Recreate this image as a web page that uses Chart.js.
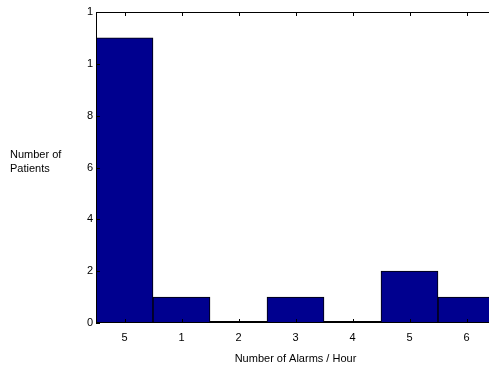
<!DOCTYPE html>
<html>
<head>
<meta charset="utf-8">
<script src="https://cdn.jsdelivr.net/npm/chart.js@4"></script>
<style>
  html, body { margin: 0; padding: 0; background: #fff; overflow: hidden; }
  #wrap { position: relative; width: 495px; height: 369px; }
</style>
</head>
<body>
<div id="wrap"><canvas id="histChart"></canvas></div>
<script>
// data
const categories = ['5', '1', '2', '3', '4', '5', '6'];
const patientCounts = [11, 1, 0, 1, 0, 2, 1];
const yTickValues = [0, 2, 4, 6, 8, 10, 12];
const yTickLabels = ['0', '2', '4', '6', '8', '1', '1'];

const FONT = '"Liberation Sans", Arial, sans-serif';
const BAR_COLOR = '#00008f';

// frame, inside tick marks and the horizontal y title
const framePlugin = {
    id: 'frame',
    afterDraw(chart) {
        const ctx = chart.ctx;
        const a = chart.chartArea;
        const x = chart.scales.x;
        const y = chart.scales.y;
        ctx.save();
        ctx.strokeStyle = '#000';
        ctx.lineWidth = 1;
        ctx.beginPath();
        ctx.moveTo(a.left + 0.5, a.top + 0.5);
        ctx.lineTo(a.right, a.top + 0.5);
        ctx.moveTo(a.left + 0.5, a.top);
        ctx.lineTo(a.left + 0.5, a.bottom);
        ctx.moveTo(a.left, a.bottom - 0.5);
        ctx.lineTo(a.right, a.bottom - 0.5);
        // tick marks pointing inward
        categories.forEach((c, i) => {
            const px = Math.round(x.getPixelForValue(i)) + 0.5;
            ctx.moveTo(px, a.top);
            ctx.lineTo(px, a.top + 4);
            ctx.moveTo(px, a.bottom);
            ctx.lineTo(px, a.bottom - 4);
        });
        yTickValues.forEach(v => {
            const py = Math.round(y.getPixelForValue(v)) + 0.5;
            ctx.moveTo(a.left, py);
            ctx.lineTo(a.left + 4, py);
        });
        ctx.stroke();

        // zero-height bars show as a heavier baseline
        const meta = chart.getDatasetMeta(0);
        ctx.lineWidth = 2;
        ctx.beginPath();
        meta.data.forEach((bar, i) => {
            if (patientCounts[i] === 0) {
                ctx.moveTo(bar.x - bar.width / 2, a.bottom - 1);
                ctx.lineTo(bar.x + bar.width / 2, a.bottom - 1);
            }
        });
        ctx.stroke();

        ctx.fillStyle = '#000';
        ctx.font = '11px ' + FONT;
        ctx.textAlign = 'left';
        ctx.textBaseline = 'middle';
        ctx.fillText('Number of', 10, 155);
        ctx.fillText('Patients', 10, 169);
        ctx.restore();
    }
};

function initChart() {
    const ctx = document.getElementById('histChart').getContext('2d');
    new Chart(ctx, {
        type: 'bar',
        data: {
            labels: categories,
            datasets: [{
                data: patientCounts,
                backgroundColor: BAR_COLOR,
                borderColor: '#000',
                borderWidth: 1,
                borderSkipped: false,
                categoryPercentage: 1,
                barPercentage: 1
            }]
        },
        options: {
            responsive: true,
            maintainAspectRatio: false,
            animation: false,
            layout: { padding: { left: 0, top: 12, right: 0, bottom: 0 } },
            plugins: {
                legend: { display: false },
                tooltip: { enabled: false }
            },
            scales: {
                x: {
                    grid: { display: false, drawTicks: false },
                    border: { display: false },
                    ticks: {
                        color: '#000',
                        padding: 8,
                        font: { family: FONT, size: 11 }
                    },
                    title: {
                        display: true,
                        text: 'Number of Alarms / Hour',
                        color: '#000',
                        padding: { top: 9, bottom: 3 },
                        font: { family: FONT, size: 11 }
                    },
                    afterFit: (s) => { s.height = 46; }
                },
                y: {
                    min: 0,
                    max: 12,
                    afterBuildTicks: (s) => { s.ticks = yTickValues.map(v => ({ value: v })); },
                    grid: { display: false, drawTicks: false },
                    border: { display: false },
                    ticks: {
                        color: '#000',
                        padding: 3,
                        font: { family: FONT, size: 11 },
                        callback: (v) => yTickLabels[yTickValues.indexOf(v)]
                    },
                    afterFit: (s) => { s.width = 96; }
                }
            }
        },
        plugins: [framePlugin]
    });
}

document.addEventListener('DOMContentLoaded', initChart);
</script>
</body>
</html>
